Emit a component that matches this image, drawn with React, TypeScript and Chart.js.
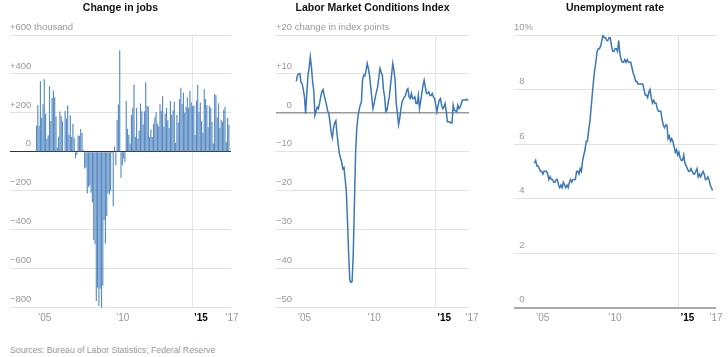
import React, { useEffect, useRef } from "react";
import { Chart, registerables } from "chart.js";
Chart.register(...registerables);

const FONT = '"Liberation Sans", Arial, Helvetica, sans-serif';
Chart.defaults.font.family = FONT;

// Monthly values, Jan 2005 .. May 2017
const JOBS_CHANGE = [
  134, 239, 134, 363, 175, 245, 373, 196, 67, 84, 337, 159,
  277, 315, 280, 182, 23, 77, 207, 184, 157, 2, 210, 171,
  238, 88, 188, 78, 144, 71, -33, -16, 85, 82, 118, 97,
  10, -86, -80, -214, -182, -172, -210, -259, -452, -474, -765, -697,
  -791, -703, -823, -686, -351, -470, -329, -212, -219, -200, -7, -279,
  28, -69, 163, 243, 522, -133, -70, -34, -52, 262, 119, 87,
  43, 189, 225, 346, 77, 225, 69, 110, 248, 209, 141, 209,
  358, 237, 233, 78, 115, 76, 143, 177, 203, 146, 132, 244,
  211, 286, 130, 197, 226, 162, 122, 261, 190, 212, 258, 47,
  190, 151, 272, 329, 246, 304, 202, 230, 280, 227, 312, 255,
  234, 238, 86, 262, 344, 206, 254, 157, 100, 321, 272, 239,
  126, 237, 225, 153, 43, 297, 291, 176, 249, 124, 164, 155,
  216, 232, 50, 174, 138,
];

const LMCI = [
  8.1, 9.7, 10.0, 10.1, 7.9, 7.5, 6.0, 4.1, -0.2, 5.0, 9.5, 11.5,
  14.4, 11.8, 8.0, 5.8, -0.6, 0.5, 1.5, 1.1, 2.5, 4.1, 5.5, 6.0,
  4.5, 3.3, 2.0, 0.5, -0.2, -2.5, -5.0, -6.4, -4.0, -2.5, -2.0, -5.3,
  -8.0, -10.4, -11.5, -12.6, -14.3, -14.0, -17.0, -20.0, -27.5, -36.0, -42.9, -43.5,
  -43.3, -36.0, -23.2, -10.4, -4.0, -1.0, 0.7, 2.0, 2.8, 8.4, 9.7, 9.5,
  10.9, 12.7, 11.4, 9.7, 6.7, 3.7, 1.1, 2.5, 4.1, 5.4, 6.7, 9.0,
  11.4, 10.5, 9.7, 6.0, 4.1, 0.3, 0.7, 2.5, 4.1, 7.0, 9.7, 12.7,
  11.0, 8.4, 2.4, 0.0, -3.0, -1.4, 1.0, 2.8, 3.5, 4.1, 4.5, 5.8,
  6.2, 4.1, 3.7, 5.0, 3.7, 3.7, 4.1, 2.4, 2.4, 4.5, 1.1, 3.0,
  5.0, 7.0, 8.4, 6.7, 5.0, 5.0, 5.4, 4.5, 4.5, 5.0, 4.1, 3.7,
  2.0, 0.3, 2.0, 3.3, 3.7, 2.0, 1.1, 1.5, 2.4, 0.5, -2.3, -2.3,
  -2.3, -2.6, -2.6, 2.0, 0.7, 0.5, 0.3, 2.0, 1.1, 1.5, 2.4, 3.3,
  3.3, 3.3, 3.5, 3.3, 3.4,
];

const UNEMPLOYMENT = [
  5.3, 5.4, 5.2, 5.2, 5.1, 5.0, 5.0, 4.9, 5.0, 5.0, 5.0, 4.9,
  4.7, 4.8, 4.7, 4.7, 4.6, 4.6, 4.7, 4.7, 4.5, 4.4, 4.5, 4.4,
  4.6, 4.5, 4.4, 4.5, 4.4, 4.6, 4.7, 4.6, 4.7, 4.7, 4.7, 5.0,
  5.0, 4.9, 5.1, 5.0, 5.4, 5.6, 5.8, 6.1, 6.1, 6.5, 6.8, 7.3,
  7.8, 8.3, 8.7, 9.0, 9.4, 9.5, 9.5, 9.6, 9.8, 10.0, 9.9, 9.9,
  9.8, 9.8, 9.9, 9.9, 9.6, 9.4, 9.4, 9.5, 9.5, 9.4, 9.8, 9.3,
  9.1, 9.0, 9.0, 9.1, 9.0, 9.1, 9.0, 9.0, 9.0, 8.8, 8.6, 8.5,
  8.3, 8.3, 8.2, 8.2, 8.2, 8.2, 8.2, 8.0, 7.8, 7.8, 7.7, 7.9,
  8.0, 7.7, 7.5, 7.6, 7.5, 7.5, 7.3, 7.2, 7.2, 7.2, 6.9, 6.7,
  6.6, 6.7, 6.7, 6.2, 6.3, 6.1, 6.2, 6.1, 5.9, 5.7, 5.8, 5.6,
  5.7, 5.5, 5.4, 5.4, 5.6, 5.3, 5.2, 5.1, 5.0, 5.0, 5.1, 5.0,
  4.9, 4.9, 5.0, 5.1, 4.8, 4.9, 4.8, 4.9, 5.0, 4.9, 4.7, 4.7,
  4.8, 4.7, 4.5, 4.4, 4.3,
];

// x ticks: month index from Jan 2005
const X_TICKS = [0, 60, 120, 144];
const X_TICK_LABELS = ["\u201905", "\u201910", "\u201915", "\u201917"];
const HIGHLIGHT_TICK = 120;

const JOBS_Y_TICKS = [-800, -600, -400, -200, 0, 200, 400, 600];
const JOBS_Y_LABELS = ["\u2212800", "\u2212600", "\u2212400", "\u2212200", "\u2007\u2007\u20070", "+200", "+400", "+600 thousand"];

const LMCI_Y_TICKS = [-50, -40, -30, -20, -10, 0, 10, 20];
const LMCI_Y_LABELS = ["\u221250", "\u221240", "\u221230", "\u221220", "\u221210", "\u2007\u20070", "+10", "+20 change in index points"];

const UR_Y_TICKS = [0, 2, 4, 6, 8, 10];
const UR_Y_LABELS = ["\u20070", "\u20072", "\u20074", "\u20076", "\u20078", "10%"];

const SOURCE = "Sources: Bureau of Labor Statistics; Federal Reserve";

const CANVAS_H = 330;
const AREA_TOP = 35;
const AREA_BOTTOM = 307.7;
const RIGHT_PAD = 10;

type Spec = {
  left: number;
  gridWidth: number;
  title: string;
  kind: "bar" | "line";
  values: number[];
  xMin: number;
  xMax: number;
  yMin: number;
  yMax: number;
  yTicks: number[];
  yLabels: string[];
  zeroColor: string;
  zeroWidth: number;
};

function Panel({ spec }: { spec: Spec }) {
  const ref = useRef<HTMLCanvasElement | null>(null);
  useEffect(() => {
    if (!ref.current) return;
    const titleSize = 10.5;
    const dataset: any =
      spec.kind === "bar"
        ? {
            data: spec.values.map((v, i) => ({ x: i, y: v })),
            backgroundColor: "#5a8dc4",
            borderWidth: 0,
            barPercentage: 0.9,
            categoryPercentage: 1,
            grouped: false,
          }
        : {
            data: spec.values.map((v, i) => ({ x: i, y: v })),
            borderColor: "#3b78b7",
            borderWidth: 1.5,
            pointRadius: 0,
            tension: 0,
            fill: false,
          };
    const chart = new Chart(ref.current, {
      type: spec.kind,
      data: { datasets: [dataset] },
      options: {
        animation: false,
        responsive: false,
        maintainAspectRatio: false,
        layout: { padding: { left: 0, right: RIGHT_PAD, top: 0, bottom: 0 } },
        plugins: {
          legend: { display: false },
          tooltip: { enabled: false },
          title: {
            display: true,
            text: spec.title,
            color: "#121212",
            font: { family: FONT, size: titleSize, weight: "bold", lineHeight: 1.2 },
            padding: { top: 2, bottom: AREA_TOP - 2 - titleSize * 1.2 },
          },
        },
        scales: {
          x: {
            type: "linear",
            min: spec.xMin,
            max: spec.xMax,
            offset: false,
            afterBuildTicks: (s: any) => {
              s.ticks = X_TICKS.map((v) => ({ value: v }));
            },
            afterFit: (s: any) => {
              s.height = CANVAS_H - AREA_BOTTOM;
              s.paddingLeft = 0;
              s.paddingRight = 0;
            },
            grid: {
              offset: false,
              drawTicks: false,
              lineWidth: 1,
              color: (c: any) =>
                c.tick && c.tick.value === HIGHLIGHT_TICK ? "#e4e4e4" : "rgba(0,0,0,0)",
            },
            border: { display: false },
            ticks: {
              autoSkip: false,
              maxRotation: 0,
              minRotation: 0,
              align: "start",
              padding: 5,
              labelOffset: 1.5,
              callback: (v: any) => {
                const k = X_TICKS.indexOf(Number(v));
                return k >= 0 ? X_TICK_LABELS[k] : "";
              },
              color: (c: any) => (c.tick && c.tick.value === HIGHLIGHT_TICK ? "#000" : "#999"),
              font: (c: any) => ({
                family: FONT,
                size: 10,
                weight: c.tick && c.tick.value === HIGHLIGHT_TICK ? "bold" : "normal",
              }),
            },
          },
          y: {
            type: "linear",
            position: "left",
            min: spec.yMin,
            max: spec.yMax,
            afterBuildTicks: (s: any) => {
              s.ticks = spec.yTicks.map((v) => ({ value: v }));
            },
            afterFit: (s: any) => {
              s.width = 0;
              s.paddingTop = 0;
              s.paddingBottom = 0;
            },
            grid: {
              drawTicks: false,
              color: (c: any) => (c.tick && c.tick.value === 0 ? spec.zeroColor : "#e2e2e2"),
              lineWidth: (c: any) => (c.tick && c.tick.value === 0 ? spec.zeroWidth : 1),
            },
            border: { display: false },
            ticks: {
              mirror: true,
              padding: 0,
              labelOffset: -8,
              color: "#999",
              font: { family: FONT, size: 9.5 },
              callback: (v: any) => {
                const k = spec.yTicks.indexOf(Number(v));
                return k >= 0 ? spec.yLabels[k] : "";
              },
            },
          },
        },
      } as any,
    });
    return () => chart.destroy();
  }, [spec]);
  return (
    <canvas
      ref={ref}
      width={spec.gridWidth + RIGHT_PAD}
      height={CANVAS_H}
      style={{ position: "absolute", left: spec.left, top: 0 }}
    />
  );
}

const SPECS: Spec[] = [
  {
    left: 10,
    gridWidth: 221,
    title: "Change in jobs",
    kind: "bar",
    values: JOBS_CHANGE,
    xMin: -20.4,
    xMax: 149.6,
    yMin: -800,
    yMax: 600,
    yTicks: JOBS_Y_TICKS,
    yLabels: JOBS_Y_LABELS,
    zeroColor: "#333333",
    zeroWidth: 1,
  },
  {
    left: 276,
    gridWidth: 193,
    title: "Labor Market Conditions Index",
    kind: "line",
    values: LMCI,
    xMin: -17.5,
    xMax: 148.6,
    yMin: -50,
    yMax: 20,
    yTicks: LMCI_Y_TICKS,
    yLabels: LMCI_Y_LABELS,
    zeroColor: "#9a9a9a",
    zeroWidth: 1.5,
  },
  {
    left: 514,
    gridWidth: 202,
    title: "Unemployment rate",
    kind: "line",
    values: UNEMPLOYMENT,
    xMin: -17.0,
    xMax: 150.8,
    yMin: 0,
    yMax: 10,
    yTicks: UR_Y_TICKS,
    yLabels: UR_Y_LABELS,
    zeroColor: "#aaaaaa",
    zeroWidth: 2,
  },
];

export default function App() {
  return (
    <div
      style={{
        position: "absolute",
        left: 0,
        top: 0,
        width: 728,
        height: 357,
        background: "#fff",
        overflow: "hidden",
      }}
    >
      {SPECS.map((s) => (
        <Panel key={s.title} spec={s} />
      ))}
      <div
        style={{
          position: "absolute",
          left: 10,
          top: 344,
          fontFamily: FONT,
          fontSize: 8.7,
          lineHeight: "12px",
          color: "#999",
          whiteSpace: "nowrap",
        }}
      >
        {SOURCE}
      </div>
    </div>
  );
}
